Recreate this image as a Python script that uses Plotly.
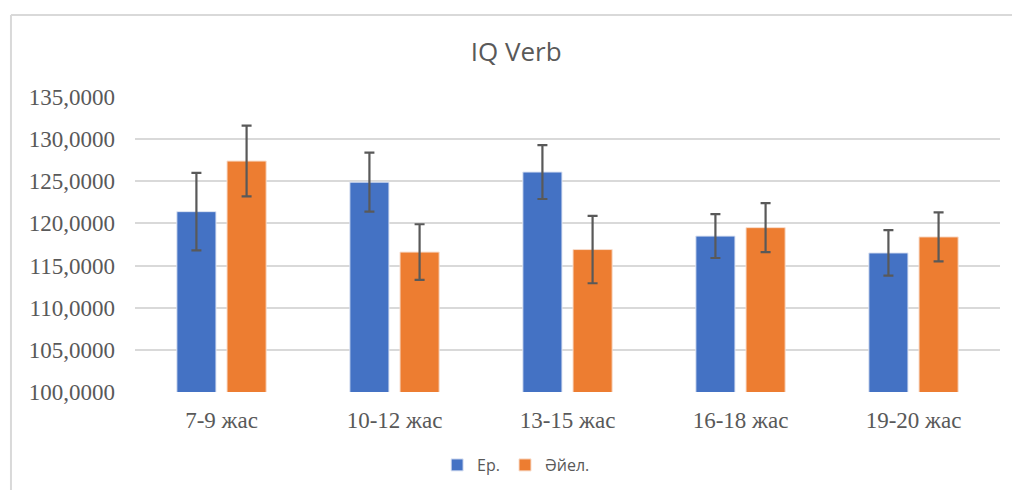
import plotly.graph_objects as go

# Data
categories = ["7-9 жас", "10-12 жас", "13-15 жас", "16-18 жас", "19-20 жас"]
male_values = [121.4, 124.9, 126.1, 118.5, 116.5]
male_errors = [4.6, 3.5, 3.2, 2.6, 2.7]
female_values = [127.4, 116.6, 116.9, 119.5, 118.4]
female_errors = [4.2, 3.3, 4.0, 2.9, 2.9]
series_names = ["Ер.", "Әйел."]
tick_values = [100, 105, 110, 115, 120, 125, 130, 135]

grey = "#595959"

fig = go.Figure()
fig.add_trace(go.Bar(
    name=series_names[0],
    x=categories,
    y=male_values,
    marker=dict(color="#4472C4", line=dict(color="#dde4f3", width=1)),
    error_y=dict(type="data", array=male_errors, color=grey, thickness=2.2, width=5),
))
fig.add_trace(go.Bar(
    name=series_names[1],
    x=categories,
    y=female_values,
    marker=dict(color="#ED7D31", line=dict(color="#f8dccb", width=1)),
    error_y=dict(type="data", array=female_errors, color=grey, thickness=2.2, width=5),
))

# chart frame (left and top edges, as in the source screenshot)
fig.add_shape(type="line", xref="paper", yref="paper",
              x0=-0.1434, x1=-0.1434, y0=1.278, y1=-0.34,
              line=dict(color="#d9d9d9", width=2))
fig.add_shape(type="line", xref="paper", yref="paper",
              x0=-0.1434, x1=1.02, y0=1.278, y1=1.278,
              line=dict(color="#d9d9d9", width=2))

fig.update_layout(
    width=1012,
    height=490,
    margin=dict(l=135, r=12, t=97, b=98),
    paper_bgcolor="white",
    plot_bgcolor="white",
    separators=", ",
    barmode="group",
    bargap=0.42,
    bargroupgap=0.22,
    title=dict(
        text="IQ Verb",
        x=0.51, xref="container", xanchor="center",
        y=0.894, yref="container", yanchor="middle",
        font=dict(family="Open Sans, Liberation Sans, sans-serif", size=26, color=grey),
    ),
    xaxis=dict(
        showgrid=False,
        showline=False,
        ticks="",
        ticklabelstandoff=12,
        tickfont=dict(family="Liberation Serif, serif", size=23, color=grey),
    ),
    yaxis=dict(
        range=[100, 135],
        tickvals=tick_values,
        tickformat=".4f",
        showgrid=True,
        gridcolor="#d9d9d9",
        gridwidth=1.5,
        zeroline=False,
        showline=False,
        ticks="",
        ticklabelstandoff=19,
        tickfont=dict(family="Liberation Serif, serif", size=23, color=grey),
    ),
    legend=dict(
        orientation="h",
        x=0.51, xref="container", xanchor="center",
        y=0.051, yref="container", yanchor="middle",
        font=dict(family="Open Sans, Liberation Sans, sans-serif", size=16, color=grey),
        itemwidth=30,
    ),
)

# no page margin, so the figure starts at the window's corner
fig.write_html("out.html", config={"displayModeBar": False},
               post_script="document.body.style.margin='0';")
